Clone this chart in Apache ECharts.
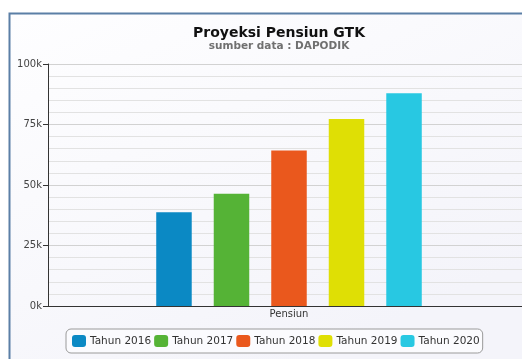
<!DOCTYPE html>
<html>
<head>
<meta charset="utf-8">
<script src="https://cdn.jsdelivr.net/npm/echarts@6/dist/echarts.min.js"></script>
<style>
  html, body { margin: 0; padding: 0; background: #ffffff; }
  #chart { width: 522px; height: 359px; }
</style>
</head>
<body>
<div id="chart"></div>
<script>
// Retirement projection data
const categories = ['Pensiun'];
const seriesNames = ['Tahun 2016', 'Tahun 2017', 'Tahun 2018', 'Tahun 2019', 'Tahun 2020'];
const seriesValues = [38700, 46400, 64300, 77300, 87900];
const seriesColors = ['#0b89c4', '#55b336', '#ea581d', '#dfdf05', '#28c8e2'];
const yTicks = [0, 25000, 50000, 75000, 100000];

const FONT = 'DejaVu Sans';
const chart = echarts.init(document.getElementById('chart'), null, { renderer: 'canvas' });

const series = seriesNames.map((name, i) => ({
  name: name,
  type: 'bar',
  data: [seriesValues[i]],
  barWidth: 35.5,
  barGap: '62%',
  itemStyle: { color: seriesColors[i] }
}));

chart.setOption({
  animation: false,
  backgroundColor: '#ffffff',
  graphic: [
    {
      type: 'rect',
      z: -10,
      silent: true,
      shape: { x: 9.5, y: 13.5, width: 600, height: 400 },
      style: {
        fill: new echarts.graphic.LinearGradient(0, 0, 0.3, 1, [
          { offset: 0, color: '#fefeff' },
          { offset: 1, color: '#f4f4fa' }
        ]),
        stroke: '#5b7fa6',
        lineWidth: 2
      }
    }
  ],
  title: {
    text: 'Proyeksi Pensiun GTK',
    subtext: 'sumber data : DAPODIK',
    left: 274,
    textAlign: 'center',
    top: 21,
    itemGap: 1,
    textStyle: { fontFamily: FONT, fontSize: 14, fontWeight: 'bold', color: '#111111' },
    subtextStyle: { fontFamily: FONT, fontSize: 10.5, fontWeight: 'bold', color: '#707070' }
  },
  legend: {
    data: seriesNames,
    left: 66,
    top: 329,
    orient: 'horizontal',
    icon: 'roundRect',
    itemWidth: 14,
    itemHeight: 12,
    itemGap: 3,
    padding: [6, 3, 6, 6],
    borderColor: '#9a9a9a',
    borderWidth: 1,
    borderRadius: 5,
    backgroundColor: '#fbfbfe',
    textStyle: { fontFamily: FONT, fontSize: 10.5, color: '#333333', padding: [0, 0, 0, -1] }
  },
  grid: { left: 48, width: 482, top: 64, bottom: 53, containLabel: false, outerBoundsMode: 'none' },
  xAxis: {
    type: 'category',
    data: categories,
    axisLine: { lineStyle: { color: '#333333', width: 1 } },
    axisTick: { show: false },
    axisLabel: { fontFamily: FONT, fontSize: 10, color: '#333333', margin: 3 },
    splitLine: { show: false }
  },
  yAxis: {
    type: 'value',
    min: yTicks[0],
    max: yTicks[yTicks.length - 1],
    interval: 25000,
    axisLine: { show: true, lineStyle: { color: '#333333', width: 1 } },
    axisTick: { show: true, length: 5, lineStyle: { color: '#333333' } },
    axisLabel: {
      fontFamily: FONT, fontSize: 10, color: '#444444', margin: 6,
      formatter: v => (v / 1000) + 'k'
    },
    splitLine: { show: true, lineStyle: { color: '#d2d2d2', width: 1 } },
    minorTick: { show: false, splitNumber: 5 },
    minorSplitLine: { show: true, lineStyle: { color: '#e2e2e2', width: 1 } }
  },
  series: series
});
</script>
</body>
</html>
